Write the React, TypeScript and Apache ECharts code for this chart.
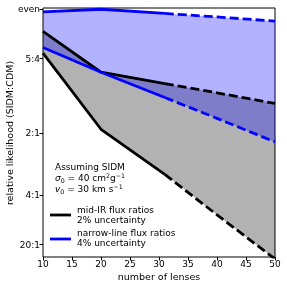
import React, { useEffect, useRef } from "react";
import * as echarts from "echarts";

const xs = [10, 20, 31, 40, 50];
const midIrUpper = [0.91, 0.745, 0.699, 0.662, 0.619];
const midIrLower = [0.822, 0.515, 0.333, 0.17, -0.008];
const narrowUpper = [0.988, 0.999, 0.982, 0.968, 0.951];
const narrowLower = [0.845, 0.745, 0.643, 0.559, 0.464];
const solidUntil = 31;
const yTickValues = [1, 0.8, 0.5, 0.25, 0.05];
const yTickLabels = ["even", "5:4", "2:1", "4:1", "20:1"];
const xTitle = "number of lenses";
const yTitle = "relative likelihood (SIDM:CDM)";

const FONT = "DejaVu Sans";

function pairs(vals: number[]) {
  return xs.map((x, i) => [x, vals[i]]);
}
function solid(vals: number[]) {
  return pairs(vals).filter((p) => p[0] <= solidUntil);
}
function dashed(vals: number[]) {
  return pairs(vals).filter((p) => p[0] >= solidUntil);
}

function lineSeries(data: number[][], color: string, dash: boolean) {
  return {
    type: "line",
    data,
    symbol: "none",
    clip: true,
    lineStyle: { color, width: 2.8, type: dash ? [9, 4] : "solid", cap: "butt" },
    z: 5,
  };
}

function bandSeries(upper: number[], lower: number[], color: string, z: number) {
  return {
    type: "custom",
    data: [0],
    z,
    silent: true,
    renderItem: (params: any, api: any) => {
      const pts: number[][] = [];
      xs.forEach((x, i) => pts.push(api.coord([x, upper[i]])));
      for (let i = xs.length - 1; i >= 0; i--) pts.push(api.coord([xs[i], lower[i]]));
      const cs = params.coordSys;
      return {
        type: "polygon",
        shape: { points: pts },
        style: { fill: color, opacity: 0.3 },
        clipPath: {
          type: "rect",
          shape: { x: cs.x, y: cs.y, width: cs.width, height: cs.height },
        },
      };
    },
  };
}

export default function App() {
  const ref = useRef<HTMLDivElement>(null);
  useEffect(() => {
    const chart = echarts.init(ref.current!, null, { renderer: "svg" });
    const labelMap: Record<string, string> = {};
    yTickValues.forEach((v, i) => (labelMap[String(v)] = yTickLabels[i]));
    const option: any = {
      animation: false,
      grid: {
        left: 43,
        right: 12,
        top: 8,
        bottom: 30,
        show: true,
        borderColor: "#000",
        borderWidth: 1,
        backgroundColor: "transparent",
        containLabel: false,
        outerBoundsMode: "none",
      },
      xAxis: {
        type: "value",
        min: 10,
        max: 50,
        interval: 5,
        axisLine: { show: false },
        axisTick: { show: true, length: 3.5, lineStyle: { color: "#000" } },
        axisLabel: { fontFamily: FONT, fontSize: 9, color: "#000", margin: 2 },
        splitLine: { show: false },
      },
      yAxis: {
        type: "value",
        min: 0,
        max: 1.004,
        axisLine: { show: false },
        axisTick: {
          show: true,
          length: 3.5,
          lineStyle: { color: "#000" },
          customValues: yTickValues,
        },
        axisLabel: {
          fontFamily: FONT,
          fontSize: 9,
          color: "#000",
          margin: 3,
          customValues: yTickValues,
          formatter: (v: number) => labelMap[String(v)] ?? "",
        },
        splitLine: { show: false },
      },
      series: [
        bandSeries(midIrUpper, midIrLower, "#000000", 1),
        bandSeries(narrowUpper, narrowLower, "#0000ff", 2),
        lineSeries(solid(midIrUpper), "#000", false),
        lineSeries(dashed(midIrUpper), "#000", true),
        lineSeries(solid(midIrLower), "#000", false),
        lineSeries(dashed(midIrLower), "#000", true),
        lineSeries(solid(narrowUpper), "#0000ff", false),
        lineSeries(dashed(narrowUpper), "#0000ff", true),
        lineSeries(solid(narrowLower), "#0000ff", false),
        lineSeries(dashed(narrowLower), "#0000ff", true),
      ],
      graphic: [
        {
          type: "text",
          x: 159,
          y: 276,
          style: {
            text: xTitle,
            fontFamily: FONT,
            fontSize: 9.5,
            fill: "#000",
            align: "center",
            verticalAlign: "middle",
          },
        },
        {
          type: "text",
          x: 9,
          y: 133,
          rotation: Math.PI / 2,
          style: {
            text: yTitle,
            fontFamily: FONT,
            fontSize: 9.5,
            fill: "#000",
            align: "center",
            verticalAlign: "middle",
          },
        },
        {
          type: "text",
          left: 55,
          top: 162,
          style: {
            text:
              "Assuming SIDM\n{i|σ}{sub|0}{n| = 40 cm}{sup|2}{n|g}{sup|−1}\n{i|v}{sub|0}{n| = 30 km s}{sup|−1}",
            fontFamily: FONT,
            fontSize: 9,
            lineHeight: 10.7,
            fill: "#000",
            rich: {
              n: { fontFamily: FONT, fontSize: 9, lineHeight: 10.7, fill: "#000" },
              i: { fontFamily: FONT, fontSize: 9, fontStyle: "italic", lineHeight: 10.7, fill: "#000" },
              sub: { fontFamily: FONT, fontSize: 6.3, lineHeight: 7, verticalAlign: "bottom", fill: "#000" },
              sup: { fontFamily: FONT, fontSize: 6.3, lineHeight: 7, verticalAlign: "top", fill: "#000" },
            },
          },
        },
        {
          type: "line",
          shape: { x1: 50, y1: 215, x2: 71, y2: 215 },
          style: { stroke: "#000", lineWidth: 2.8 },
        },
        {
          type: "text",
          left: 77,
          top: 205,
          style: {
            text: "mid-IR flux ratios\n2% uncertainty",
            fontFamily: FONT,
            fontSize: 9,
            lineHeight: 10.3,
            fill: "#000",
          },
        },
        {
          type: "line",
          shape: { x1: 50, y1: 239, x2: 71, y2: 239 },
          style: { stroke: "#0000ff", lineWidth: 2.8 },
        },
        {
          type: "text",
          left: 77,
          top: 228,
          style: {
            text: "narrow-line flux ratios\n4% uncertainty",
            fontFamily: FONT,
            fontSize: 9,
            lineHeight: 10.3,
            fill: "#000",
          },
        },
      ],
    };
    chart.setOption(option);
    return () => chart.dispose();
  }, []);
  return (
    <div
      ref={ref}
      style={{ position: "fixed", left: 0, top: 0, width: 287, height: 287 }}
    />
  );
}
